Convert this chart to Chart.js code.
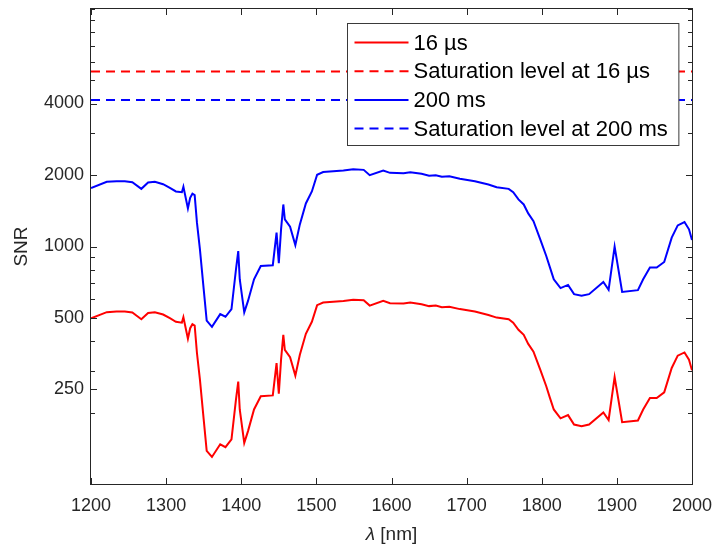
<!DOCTYPE html>
<html>
<head>
<meta charset="utf-8">
<script src="https://cdn.jsdelivr.net/npm/chart.js@4/dist/chart.umd.min.js"></script>
<style>
  html, body { margin: 0; padding: 0; background: #fff; }
  #grafico-snr { display: block; }
</style>
</head>
<body>
<canvas id="grafico-snr" width="716" height="548"></canvas>
<script>
// comprimento de onda [nm]
const wavelength = [1200, 1221, 1234, 1245, 1255, 1267, 1276, 1285, 1296, 1305,
    1313, 1321, 1323, 1329, 1332, 1335, 1338, 1341, 1345, 1350,
    1354, 1361, 1372, 1379, 1387, 1393, 1396, 1398, 1404, 1409,
    1417, 1426, 1442, 1447, 1450, 1453, 1456, 1458, 1465, 1472,
    1478, 1486, 1494, 1501, 1509, 1536, 1549, 1563, 1571, 1589,
    1598, 1616, 1625, 1640, 1650, 1659, 1667, 1677, 1691, 1711,
    1729, 1740, 1756, 1762, 1769, 1776, 1782, 1789, 1798, 1806,
    1811, 1816, 1825, 1835, 1843, 1853, 1863, 1882, 1889, 1897,
    1907, 1928, 1935, 1944, 1953, 1963, 1973, 1981, 1990, 1996, 2000];

const snr16us = [498, 529, 532, 532, 527, 494, 525, 529, 517, 499,
    482, 478, 504, 409, 453, 471, 465, 357, 275, 187,
    138, 130, 147, 143, 154, 227, 270, 206, 149, 167,
    206, 234, 236, 323, 240, 334, 425, 367, 342, 286,
    350, 429, 482, 566, 581, 590, 597, 594, 564, 590,
    577, 575, 581, 571, 561, 564, 555, 558, 545, 532,
    515, 502, 494, 478, 446, 425, 389, 361, 303, 258,
    230, 206, 189, 195, 178, 175, 178, 200, 186, 282,
    182, 185, 206, 230, 230, 243, 308, 347, 358, 334, 301];

const snr200ms = [1764, 1873, 1883, 1883, 1865, 1749, 1860, 1873, 1829, 1766,
    1705, 1693, 1784, 1447, 1604, 1668, 1645, 1263, 973, 661,
    487, 459, 519, 506, 545, 802, 957, 728, 528, 590,
    728, 828, 834, 1144, 850, 1181, 1503, 1300, 1212, 1014,
    1239, 1518, 1705, 2004, 2058, 2088, 2115, 2102, 1996, 2088,
    2042, 2035, 2055, 2023, 1985, 1996, 1966, 1977, 1928, 1883,
    1824, 1777, 1749, 1693, 1578, 1503, 1378, 1279, 1072, 912,
    815, 728, 668, 689, 630, 620, 630, 709, 657, 999,
    644, 655, 728, 815, 815, 861, 1090, 1227, 1267, 1181, 1065];

const saturation16us = 5450;
const saturation200ms = 4140;

const xTicks = [1200, 1300, 1400, 1500, 1600, 1700, 1800, 1900, 2000];
const yTickLabels = [250, 500, 1000, 2000, 4000];
const yMinorTicks = [100, 200, 300, 400, 600, 700, 800, 900,
    3000, 5000, 6000, 7000, 8000, 9000, 10000];

const corEixo = '#262626';
const fonte = '"Liberation Sans", Arial, Helvetica, sans-serif';

function pontos(valores) {
    return wavelength.map((l, i) => ({ x: l, y: valores[i] }));
}

function linhaHorizontal(valor) {
    return [{ x: 1200, y: valor }, { x: 2000, y: valor }];
}

// ticks para dentro, caixa, legenda e titulo do eixo x (estilo MATLAB)
const eixosPlugin = {
    id: 'eixosMatlab',
    afterDraw(chart) {
        const { ctx, chartArea: a, scales: { x, y } } = chart;
        ctx.save();
        ctx.strokeStyle = corEixo;
        ctx.lineWidth = 1;
        ctx.setLineDash([]);
        ctx.beginPath();
        xTicks.forEach(v => {
            const px = Math.round(x.getPixelForValue(v)) + 0.5;
            ctx.moveTo(px, a.bottom); ctx.lineTo(px, a.bottom - 6);
            ctx.moveTo(px, a.top); ctx.lineTo(px, a.top + 6);
        });
        yTickLabels.forEach(v => {
            const py = Math.round(y.getPixelForValue(v)) + 0.5;
            ctx.moveTo(a.left, py); ctx.lineTo(a.left + 6, py);
            ctx.moveTo(a.right, py); ctx.lineTo(a.right - 6, py);
        });
        yMinorTicks.forEach(v => {
            const py = Math.round(y.getPixelForValue(v)) + 0.5;
            ctx.moveTo(a.left, py); ctx.lineTo(a.left + 4, py);
            ctx.moveTo(a.right, py); ctx.lineTo(a.right - 4, py);
        });
        ctx.stroke();
        ctx.strokeRect(a.left - 0.5, a.top - 0.5, a.right - a.left + 1, a.bottom - a.top + 1);

        // legenda
        const datasets = chart.data.datasets;
        ctx.font = '22px ' + fonte;
        const maxTexto = Math.max(...datasets.map(d => ctx.measureText(d.label).width));
        const larguraLinha = 54;
        const w = 7 + larguraLinha + 5 + maxTexto + 11;
        const h = 122;
        const bx = Math.round(a.right - 14 - w) + 0.5;
        const by = a.top + 14.5;
        ctx.fillStyle = '#fff';
        ctx.fillRect(bx, by, w, h);
        ctx.strokeStyle = '#3a3a3a';
        ctx.strokeRect(bx, by, w, h);
        datasets.forEach((d, i) => {
            const cy = by + 19 + i * 28.7;
            ctx.strokeStyle = d.borderColor;
            ctx.lineWidth = d.borderWidth;
            ctx.setLineDash(d.borderDash || []);
            ctx.beginPath();
            ctx.moveTo(bx + 7, cy);
            ctx.lineTo(bx + 7 + larguraLinha, cy);
            ctx.stroke();
            ctx.fillStyle = '#000';
            ctx.textBaseline = 'middle';
            ctx.textAlign = 'left';
            ctx.fillText(d.label, bx + 7 + larguraLinha + 5, cy + 1);
        });

        // titulo do eixo x com lambda em italico
        ctx.fillStyle = corEixo;
        ctx.textBaseline = 'middle';
        const lambda = 'λ';
        const resto = ' [nm]';
        ctx.font = 'italic 19px ' + fonte;
        const wl = ctx.measureText(lambda).width;
        ctx.font = '19px ' + fonte;
        const wr = ctx.measureText(resto).width;
        const cx = (a.left + a.right) / 2 - (wl + wr) / 2;
        ctx.font = 'italic 19px ' + fonte;
        ctx.fillText(lambda, cx, 535);
        ctx.font = '19px ' + fonte;
        ctx.fillText(resto, cx + wl, 535);
        ctx.restore();
    }
};

const ctx = document.getElementById('grafico-snr').getContext('2d');

new Chart(ctx, {
    type: 'line',
    data: {
        datasets: [
            {
                label: '16 µs',
                data: pontos(snr16us),
                borderColor: '#ff0000',
                borderWidth: 2,
                pointRadius: 0,
                tension: 0,
                fill: false
            },
            {
                label: 'Saturation level at 16 µs',
                data: linhaHorizontal(saturation16us),
                borderColor: '#ff0000',
                borderWidth: 2,
                borderDash: [9, 6],
                pointRadius: 0,
                fill: false
            },
            {
                label: '200 ms',
                data: pontos(snr200ms),
                borderColor: '#0000ff',
                borderWidth: 2,
                pointRadius: 0,
                tension: 0,
                fill: false
            },
            {
                label: 'Saturation level at 200 ms',
                data: linhaHorizontal(saturation200ms),
                borderColor: '#0000ff',
                borderWidth: 2,
                borderDash: [9, 6],
                pointRadius: 0,
                fill: false
            }
        ]
    },
    options: {
        responsive: false,
        animation: false,
        devicePixelRatio: 1,
        layout: { padding: { left: 0, right: 24, top: 9, bottom: 0 } },
        plugins: {
            legend: { display: false },
            tooltip: { enabled: false }
        },
        scales: {
            x: {
                type: 'linear',
                min: 1200,
                max: 2000,
                grid: { display: false, drawTicks: false },
                border: { display: false },
                afterBuildTicks: scale => { scale.ticks = xTicks.map(v => ({ value: v })); },
                afterFit: scale => {
                    scale.height = 64;
                    scale.paddingLeft = 0;
                    scale.paddingRight = 0;
                },
                ticks: {
                    padding: 11,
                    color: corEixo,
                    font: { family: fonte, size: 18 },
                    maxRotation: 0,
                    callback: v => String(v)
                }
            },
            y: {
                type: 'logarithmic',
                min: 100,
                max: 10000,
                grid: { display: false, drawTicks: false },
                border: { display: false },
                afterBuildTicks: scale => { scale.ticks = yTickLabels.map(v => ({ value: v })); },
                afterFit: scale => {
                    scale.width = 91;
                    scale.paddingTop = 0;
                    scale.paddingBottom = 0;
                },
                ticks: {
                    padding: 7,
                    color: corEixo,
                    font: { family: fonte, size: 18 },
                    callback: v => String(v)
                },
                title: {
                    display: true,
                    text: 'SNR',
                    color: corEixo,
                    font: { family: fonte, size: 19 },
                    padding: { top: 10.5, bottom: 0 }
                }
            }
        }
    },
    plugins: [eixosPlugin]
});
</script>
</body>
</html>
